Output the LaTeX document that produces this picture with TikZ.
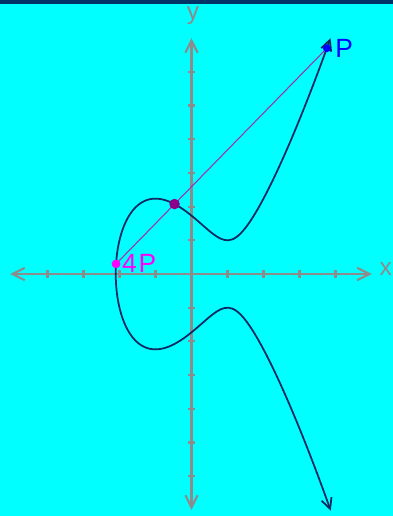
\documentclass[tikz,border=0pt]{standalone}
\usepackage{fontspec}
\setmainfont{Liberation Sans}
\usetikzlibrary{arrows.meta,positioning}
\definecolor{ScreenCyan}{HTML}{00FFFF}
\definecolor{TopNavy}{HTML}{003366}
\definecolor{AxisGray}{HTML}{8C8C8C}
\definecolor{CurveNavy}{HTML}{0F2A62}
\definecolor{ChordPurple}{HTML}{A030B0}
\definecolor{PointBlue}{HTML}{0000FF}
\definecolor{PointMagenta}{HTML}{FF00FF}
\definecolor{MeetPurple}{HTML}{8B008B}

\begin{document}
\begin{tikzpicture}[x=0.72cm, y=0.674cm,
    axis/.style={draw=AxisGray, line width=1.2pt,
      {Straight Barb[length=7pt,width=7pt]}-{Straight Barb[length=7pt,width=7pt]}},
    axistick/.style={draw=AxisGray, line width=1.2pt},
    dot/.style={circle, inner sep=0pt, minimum size=#1},
    ptlabel/.style={font=\fontsize{15}{17}\selectfont, inner sep=0pt},
    axlabel/.style={text=AxisGray, font=\fontsize{14}{16}\selectfont, inner sep=0pt, anchor=base}]
  \useasboundingbox (-5.319,-7.181) rectangle (5.597,8.131);
  \fill[ScreenCyan] (-5.319,-7.181) rectangle (5.597,8.131);
  \fill[TopNavy] (-5.319,8.011) rectangle (5.597,8.131);

  \draw[axis] (-5.04,0) -- (5.01,0);
  \draw[axis] (0,-7) -- (0,7);
  \foreach \i in {-4,...,-1,1,2,3,4}
    \draw[axistick] (\i,-0.12) -- (\i,0.12);
  \foreach \j in {-6,...,-1,1,2,...,6}
    \draw[axistick] (-0.11,\j) -- (0.11,\j);
  \node[axlabel] (xlab) at (5.4,-0.03) {x};
  \node[axlabel] (ylab) at (0.04,7.54) {y};

  \draw[CurveNavy, line width=1pt,
        {Straight Barb[length=6pt,width=6pt]}-{Straight Barb[length=6pt,width=6pt]},
        domain=-2.444:2.444, samples=160, variable=\t, smooth]
    plot ({-2.1038+\t*\t},
          {\t*sqrt((-2.1038+\t*\t)*(-2.1038+\t*\t) - 2.1038*(-2.1038+\t*\t) + 1.42597)});

  \coordinate (P) at (3.76,6.699);
  \coordinate (fourP) at (-2.095,0.30);
  \coordinate (meet) at (-0.470,2.076);
  \draw[ChordPurple, line width=0.6pt] (fourP) -- (P);

  \node[dot=4.5pt, fill=PointBlue] (Pdot) at (P) {};
  \node[dot=5pt, fill=PointMagenta] (fourPdot) at (fourP) {};
  \node[dot=6pt, fill=MeetPurple] (meetdot) at (meet) {};
  \node[ptlabel, text=PointBlue, right=0.08cm of Pdot] (Plab) {P};
  \node[ptlabel, text=PointMagenta, right=0.02cm of fourPdot] (fourPlab) {4\kern1pt P};
\end{tikzpicture}
\end{document}
